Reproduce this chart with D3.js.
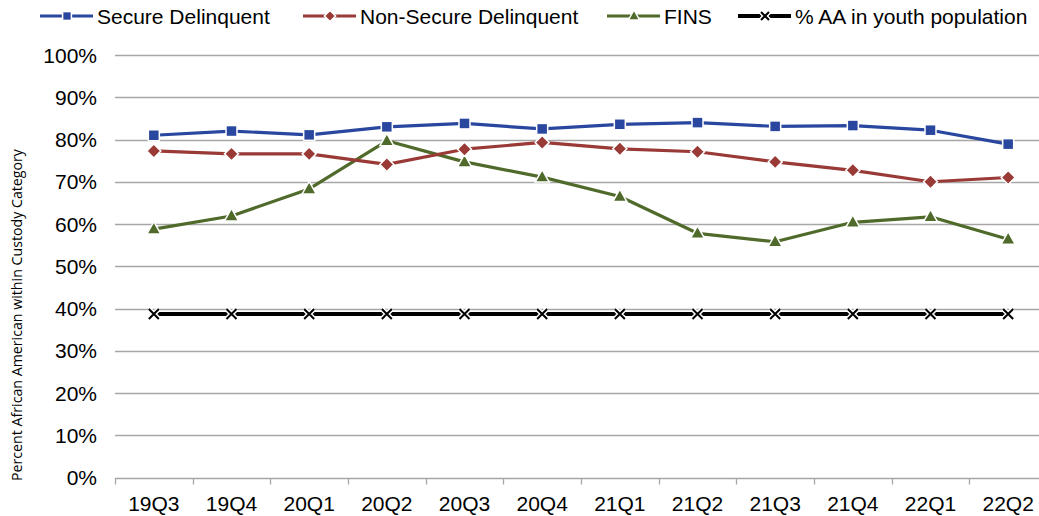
<!DOCTYPE html>
<html><head><meta charset="utf-8">
<script src="https://cdn.jsdelivr.net/npm/d3@7"></script>
<style>body{margin:0;background:#fff}svg{display:block}</style>
</head><body><svg id="c" width="1039" height="516"></svg>
<script>
const categories=["19Q3","19Q4","20Q1","20Q2","20Q3","20Q4","21Q1","21Q2","21Q3","21Q4","22Q1","22Q2"];
const secure=[81.0,82.0,81.1,83.0,83.8,82.5,83.6,84.0,83.1,83.3,82.2,78.9];
const nonSecure=[77.3,76.6,76.6,74.1,77.7,79.3,77.8,77.1,74.7,72.7,70.0,71.0];
const fins=[58.8,61.9,68.3,79.7,74.7,71.1,66.5,57.8,55.8,60.4,61.7,56.4];
const aaYouth=[38.7,38.7,38.7,38.7,38.7,38.7,38.7,38.7,38.7,38.7,38.7,38.7];
const yTicks=[0,10,20,30,40,50,60,70,80,90,100];
const seriesNames=["Secure Delinquent","Non-Secure Delinquent","FINS","% AA in youth population"];

const svg=d3.select("#c");
const x=d3.scaleBand().domain(categories).range([115,1047]);
const y=d3.scaleLinear().domain([0,100]).range([477.5,55]);
const font="'Liberation Sans', Arial, sans-serif";

// gridlines
svg.append("g").selectAll("line").data(yTicks.filter(d=>d>0)).join("line")
 .attr("x1",115).attr("x2",1047).attr("y1",d=>Math.round(y(d))+0.5).attr("y2",d=>Math.round(y(d))+0.5)
 .attr("stroke","#a6a6a6").attr("stroke-width",1.3);
// x axis
const xa=svg.append("g").attr("transform",`translate(0,${Math.round(y(0))+0.5})`);
xa.append("line").attr("x1",115).attr("x2",1047).attr("stroke","#a6a6a6").attr("stroke-width",1.3);
const bounds=categories.map(c=>x(c)).concat([x.range()[1]]);
xa.selectAll("line.t").data(bounds).join("line").attr("class","t")
 .attr("x1",d=>Math.round(d)+0.5).attr("x2",d=>Math.round(d)+0.5).attr("y1",0).attr("y2",6)
 .attr("stroke","#a6a6a6").attr("stroke-width",1.3);
xa.selectAll("text").data(categories).join("text")
 .attr("x",d=>x(d)+x.bandwidth()/2).attr("y",32).attr("text-anchor","middle")
 .attr("font-family",font).attr("font-size",21).attr("fill","#000").text(d=>d);
// y labels
svg.append("g").selectAll("text").data(yTicks).join("text")
 .attr("x",97).attr("y",d=>y(d)+7.5).attr("text-anchor","end")
 .attr("font-family",font).attr("font-size",21).attr("fill","#000").text(d=>d+"%");
// y title
svg.append("text").attr("transform","translate(22,315) rotate(-90)").attr("text-anchor","middle")
 .attr("font-family","'Open Sans', sans-serif").attr("font-size",14.2).attr("fill","#000")
 .text("Percent African American within Custody Category");

const cx=c=>x(c)+x.bandwidth()/2;
const series=[
 {name:seriesNames[0],vals:secure,color:"#2a47a0",marker:"square",w:3.2},
 {name:seriesNames[1],vals:nonSecure,color:"#993a37",marker:"diamond",w:3.2},
 {name:seriesNames[2],vals:fins,color:"#4f6a2a",marker:"triangle",w:3.2},
 {name:seriesNames[3],vals:aaYouth,color:"#000000",marker:"x",w:4}
];
function drawMarker(g,type,color,k){
 if(type==="square") g.append("rect").attr("x",-5.5*k).attr("y",-5.5*k).attr("width",11*k).attr("height",11*k).attr("fill",color).attr("stroke","#fff").attr("stroke-width",1.5);
 else if(type==="diamond") g.append("path").attr("d",`M0,${-7*k}L${7*k},0L0,${7*k}L${-7*k},0Z`).attr("fill",color).attr("stroke","#fff").attr("stroke-width",1.5);
 else if(type==="triangle") g.append("path").attr("d",`M0,${-7.5*k}L${7*k},${5*k}L${-7*k},${5*k}Z`).attr("fill",color).attr("stroke","#fff").attr("stroke-width",1.5);
 else {
  const a=5*k;
  g.append("path").attr("d",`M${-a},${-a}L${a},${a}M${-a},${a}L${a},${-a}`).attr("stroke","#fff").attr("stroke-width",5);
  g.append("path").attr("d",`M${-a},${-a}L${a},${a}M${-a},${a}L${a},${-a}`).attr("stroke",color).attr("stroke-width",2);
 }
}
const line=d3.line();
[3,2,1,0].forEach(i=>{
 const s=series[i];
 const pts=categories.map((c,j)=>[cx(c),y(s.vals[j])]);
 svg.append("path").attr("d",line(pts)).attr("fill","none").attr("stroke",s.color).attr("stroke-width",s.w).attr("stroke-linejoin","round");
 pts.forEach(p=>{const g=svg.append("g").attr("transform",`translate(${p[0]},${p[1]})`);drawMarker(g,s.marker,s.color,1);});
});
// legend
const legX=[40,303,607,738];
series.forEach((s,i)=>{
 const g=svg.append("g").attr("transform",`translate(${legX[i]},16)`);
 g.append("line").attr("x1",0).attr("x2",53).attr("stroke",s.color).attr("stroke-width",s.w);
 const m=g.append("g").attr("transform","translate(27,0)");
 drawMarker(m,s.marker,s.color,0.8);
 g.append("text").attr("x",57).attr("y",7.5).attr("font-family",font).attr("font-size",21).attr("fill","#000").text(s.name);
});
</script></body></html>
